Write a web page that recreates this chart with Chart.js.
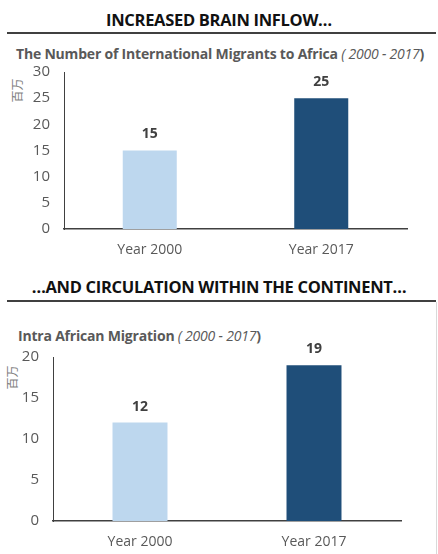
<!DOCTYPE html>
<html>
<head>
<meta charset="utf-8">
<script src="https://cdn.jsdelivr.net/npm/chart.js@4"></script>
<style>
  body { margin: 0; width: 438px; height: 554px; overflow: hidden; background: #fff; font-family: "Open Sans", sans-serif; position: relative; }
  .head { position: absolute; left: 0; width: 438px; text-align: center; font-weight: bold; font-size: 16.5px; color: #111; height: 22px; line-height: 22px; letter-spacing: -0.3px; }
  .rule { position: absolute; left: 7px; width: 429px; height: 2px; background: #404040; }
  .ctitle { position: absolute; font-size: 14px; font-weight: bold; color: #595959; white-space: nowrap; height: 18px; line-height: 18px; letter-spacing: -0.2px; }
  .ctitle i { font-weight: normal; }
  .unit { position: absolute; font-size: 12px; color: #7f7f7f; transform: rotate(-90deg); white-space: nowrap; font-family: "Noto Sans CJK SC", sans-serif; }
  .box { position: absolute; left: 0; width: 438px; }
</style>
</head>
<body>
<div class="head" style="top:9px">INCREASED BRAIN INFLOW…</div>
<div class="rule" style="top:32px"></div>
<div class="ctitle" style="left:16px; top:45px">The Number of International Migrants to Africa <i>( 2000 - 2017</i>)</div>
<div class="unit" style="left:4px; top:82px">百万</div>
<div class="box" style="top:60px; height:204px"><canvas id="chart1"></canvas></div>

<div class="head" style="top:276px">…AND CIRCULATION WITHIN THE CONTINENT…</div>
<div class="rule" style="top:300px"></div>
<div style="position:absolute; left:436px; top:302px; width:1px; height:252px; background:#d9d9d9"></div>
<div class="ctitle" style="left:18px; top:327px">Intra African Migration <i>( 2000 - 2017</i>)</div>
<div class="unit" style="left:-1px; top:369px">百万</div>
<div class="box" style="top:325px; height:229px"><canvas id="chart2"></canvas></div>

<script>
// data
var categories = ['Year 2000', 'Year 2017'];
var inflowValues = [15, 25];
var intraValues = [12, 19];
var inflowAxisMax = 30;
var intraAxisMax = 20;
var tickStep = 5;
var barColors = ['#BDD7EE', '#1F4E79'];

// draws the number above each bar
var valueLabels = {
  id: 'valueLabels',
  afterDatasetsDraw: function(chart) {
    var ctx = chart.ctx;
    var values = chart.data.datasets[0].data;
    ctx.save();
    ctx.font = 'bold 14px "Open Sans"';
    ctx.fillStyle = '#404040';
    ctx.textAlign = 'center';
    ctx.textBaseline = 'middle';
    chart.getDatasetMeta(0).data.forEach(function(bar, i) {
      ctx.fillText(values[i], bar.x, bar.y - 16);
    });
    ctx.restore();
  }
};

function makeChart(id, values, max, yWidth, xHeight, padTop, padRight, barPct) {
  var ctx = document.getElementById(id).getContext('2d');
  return new Chart(ctx, {
    type: 'bar',
    data: {
      labels: categories,
      datasets: [{
        data: values,
        backgroundColor: barColors,
        categoryPercentage: 1,
        barPercentage: barPct
      }]
    },
    options: {
      responsive: true,
      maintainAspectRatio: false,
      animation: false,
      layout: { padding: { left: 0, right: padRight, top: padTop, bottom: 0 } },
      plugins: { legend: { display: false }, tooltip: { enabled: false } },
      scales: {
        x: {
          grid: { display: false, drawTicks: false },
          border: { display: true, color: '#404040', width: 1.5 },
          ticks: { color: '#595959', font: { family: 'Open Sans', size: 14 }, padding: 13 },
          afterFit: function(scale) { scale.height = xHeight; }
        },
        y: {
          min: 0,
          max: max,
          grid: { display: false, drawTicks: false },
          border: { display: true, color: '#404040', width: 1 },
          ticks: { stepSize: tickStep, color: '#595959', font: { family: 'Open Sans', size: 15 }, padding: 14 },
          afterFit: function(scale) {
            scale.width = yWidth;
            scale.paddingTop = 10;
            scale.paddingBottom = 10;
          }
        }
      }
    },
    plugins: [valueLabels]
  });
}

makeChart('chart1', inflowValues, inflowAxisMax, 64, 35, 12, 31, 0.315);
makeChart('chart2', intraValues, intraAxisMax, 53, 33, 32, 37, 0.316);
</script>
</body>
</html>
